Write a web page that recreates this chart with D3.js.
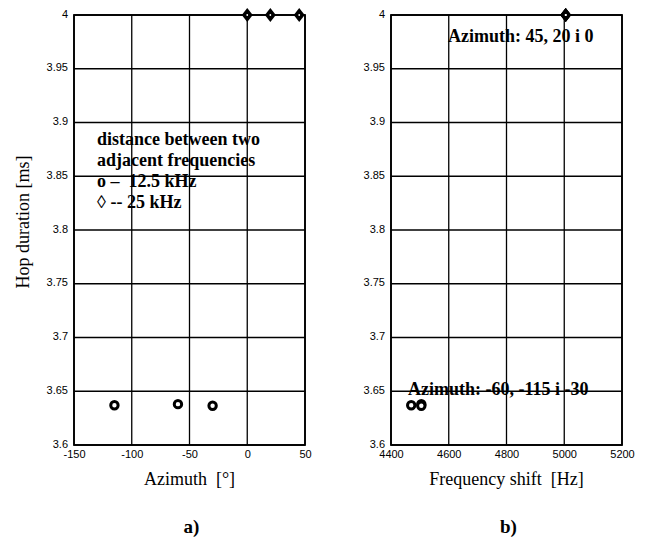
<!DOCTYPE html>
<html>
<head>
<meta charset="utf-8">
<script src="https://cdn.jsdelivr.net/npm/d3@7"></script>
<style>
  body { margin: 0; background: #fff; }
  svg { display: block; }
  text { white-space: pre; }
</style>
</head>
<body>
<svg id="chart" width="647" height="540"></svg>
<script>
// values
const azimuth12 = [-115, -60, -30];          // 12.5 kHz spacing
const hop12 = [3.637, 3.638, 3.6365];
const azimuth25 = [0, 20, 45];               // 25 kHz spacing
const hop25 = [4, 4, 4];

const shift12 = [4470, 4505, 4505];
const shift25 = [5005, 5005, 5005];

const yTicks = [3.6, 3.65, 3.7, 3.75, 3.8, 3.85, 3.9, 3.95, 4];
const azTicks = [-150, -100, -50, 0, 50];
const freqTicks = [4400, 4600, 4800, 5000, 5200];

const legendLines = ["distance between two", "adjacent frequencies", "o \u2013  12.5 kHz", "\u25CA -- 25 kHz"];

const svg = d3.select("#chart");
const plotTop = 15, plotBottom = 445, plotW = 231;
const serif = "Liberation Serif, Times New Roman, serif";
const sans = "Liberation Sans, Arial, sans-serif";

const y = d3.scaleLinear().domain([3.6, 4]).range([plotBottom, plotTop]);

function panel(left, xDomain, xTicks, xs12, xs25, xTitle, tag) {
    const x = d3.scaleLinear().domain(xDomain).range([left, left + plotW]);
    const g = svg.append("g");

    // grid
    g.selectAll(".vg").data(xTicks).join("line")
        .attr("x1", d => x(d)).attr("x2", d => x(d))
        .attr("y1", plotTop).attr("y2", plotBottom)
        .attr("stroke", "#000").attr("stroke-width", 1.3);
    g.selectAll(".hg").data(yTicks).join("line")
        .attr("x1", left).attr("x2", left + plotW)
        .attr("y1", d => y(d)).attr("y2", d => y(d))
        .attr("stroke", "#000").attr("stroke-width", 1.3);

    // frame
    g.append("rect").attr("x", left).attr("y", plotTop)
        .attr("width", plotW).attr("height", plotBottom - plotTop)
        .attr("fill", "none").attr("stroke", "#000").attr("stroke-width", 1.8);

    // axes (labels only)
    const ax = g.append("g").attr("transform", `translate(0,${plotBottom})`)
        .call(d3.axisBottom(x).tickValues(xTicks).tickSize(0).tickPadding(5)
            .tickFormat(d => String(d)));
    ax.select(".domain").remove();
    ax.selectAll("text").attr("font-family", sans)
        .attr("font-size", 11).attr("fill", "#000");

    const ay = g.append("g").attr("transform", `translate(${left},0)`)
        .call(d3.axisLeft(y).tickValues(yTicks).tickSize(0).tickPadding(6)
            .tickFormat(d => String(d)));
    ay.select(".domain").remove();
    ay.selectAll("text").attr("font-family", sans)
        .attr("font-size", 11).attr("fill", "#000").attr("dy", "0.2em");

    // markers
    g.selectAll(".ring").data(xs12.map((v, i) => [v, hop12[i]])).join("circle")
        .attr("cx", d => x(d[0])).attr("cy", d => y(d[1])).attr("r", 3.7)
        .attr("fill", "#fff").attr("stroke", "#000").attr("stroke-width", 3);
    g.selectAll(".dia").data(xs25.map((v, i) => [v, hop25[i]])).join("path")
        .attr("transform", d => `translate(${x(d[0])},${y(d[1])})`)
        .attr("d", "M0,-7L5.5,0L0,7L-5.5,0Z")
        .attr("fill", "#000");
    g.selectAll(".dot").data(xs25.map((v, i) => [v, hop25[i]])).join("circle")
        .attr("cx", d => x(d[0])).attr("cy", d => y(d[1])).attr("r", 0.9)
        .attr("fill", "#fff");

    // titles
    g.append("text").attr("x", left + plotW / 2).attr("y", 485)
        .attr("text-anchor", "middle")
        .attr("font-family", serif)
        .attr("font-size", 18).text(xTitle);
    g.append("text").attr("x", left + plotW / 2 + 2).attr("y", 533)
        .attr("text-anchor", "middle")
        .attr("font-family", serif)
        .attr("font-weight", "bold").attr("font-size", 19).text(tag);
    return {g, x};
}

const a = panel(74, [-150, 50], azTicks, azimuth12, azimuth25, "Azimuth  [\u00B0]", "a)");
const b = panel(391, [4400, 5200], freqTicks, shift12, shift25, "Frequency shift  [Hz]", "b)");

// y axis title
svg.append("text")
    .attr("transform", "translate(29,222) rotate(-90)")
    .attr("text-anchor", "middle")
    .attr("font-family", serif)
    .attr("font-size", 18).text("Hop duration [ms]");

// legend block in panel a
const bold = sel => sel.attr("font-family", serif)
    .attr("font-weight", "bold").attr("font-size", 18);
a.g.selectAll(".leg").data(legendLines).join("text")
    .attr("x", 97).attr("y", (d, i) => 145 + i * 21)
    .call(bold)
    .text(d => d);

// annotations in panel b
b.g.append("text").attr("x", 448).attr("y", 42).call(bold).text("Azimuth: 45, 20 i 0");
b.g.append("text").attr("x", 408).attr("y", 395).call(bold).text("Azimuth: -60, -115 i -30");
</script>
</body>
</html>
